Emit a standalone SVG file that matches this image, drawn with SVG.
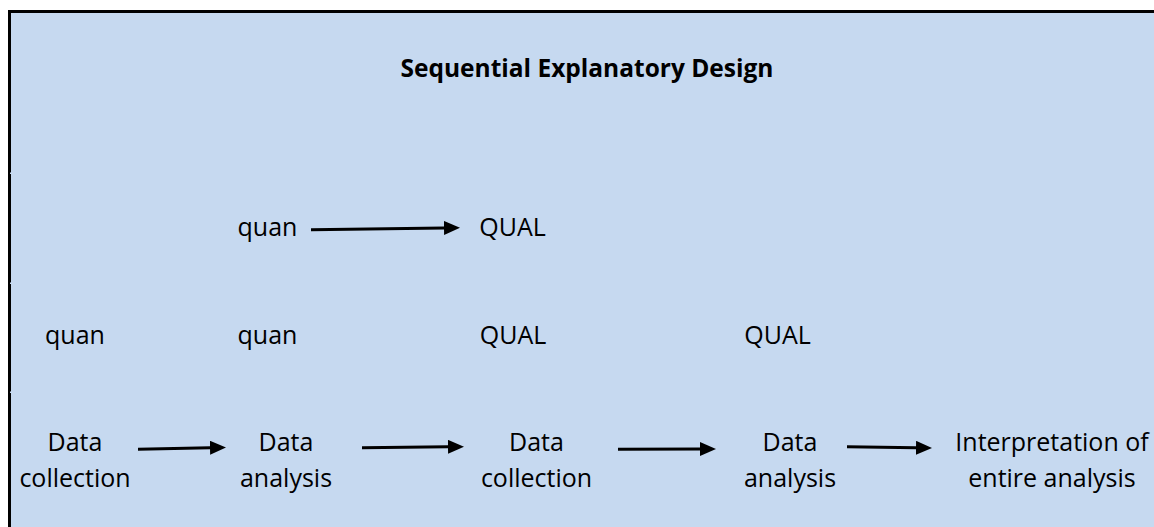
<svg xmlns="http://www.w3.org/2000/svg" width="1154" height="527" viewBox="0 0 1154 527">
  <style>
    .lbl { font-family: "Open Sans", "Liberation Sans", sans-serif; font-size: 25px; fill: #000; text-anchor: middle; }
    .title { font-weight: bold; font-size: 24.5px; }
    .conn line { stroke: #000; stroke-width: 3; }
  </style>
  <defs>
    <marker id="head" markerUnits="userSpaceOnUse" markerWidth="16" markerHeight="14" refX="0" refY="7" orient="auto">
      <path d="M0,0 L16,7 L0,14 z" fill="#000"/>
    </marker>
  </defs>

  <!-- panel -->
  <rect x="8" y="10" width="1146" height="517" fill="#C6D9F0"/>
  <rect x="8" y="10" width="1146" height="3" fill="#000"/>
  <rect x="8" y="10" width="3" height="517" fill="#000"/>
  <rect x="10" y="172.5" width="2" height="1.5" fill="#C6D9F0"/>
  <rect x="10" y="282.5" width="2" height="1.5" fill="#C6D9F0"/>
  <rect x="10" y="391.5" width="2" height="1.5" fill="#C6D9F0"/>

  <g id="title"><text class="lbl title" x="587" y="77">Sequential Explanatory Design</text></g>

  <g id="top-quan"><text class="lbl" x="267.5" y="236">quan</text></g>
  <g id="top-qual"><text class="lbl" x="512.5" y="236">QUAL</text></g>

  <g id="row-quan-1"><text class="lbl" x="75" y="344">quan</text></g>
  <g id="row-quan-2"><text class="lbl" x="267.5" y="344">quan</text></g>
  <g id="row-qual-1"><text class="lbl" x="513" y="344">QUAL</text></g>
  <g id="row-qual-2"><text class="lbl" x="777.5" y="344">QUAL</text></g>

  <g id="step-1"><text class="lbl" x="75" y="451"><tspan x="75">Data</tspan><tspan x="75" y="487">collection</tspan></text></g>
  <g id="step-2"><text class="lbl" x="286" y="451"><tspan x="286">Data</tspan><tspan x="286" y="487">analysis</tspan></text></g>
  <g id="step-3"><text class="lbl" x="536.5" y="451"><tspan x="536.5">Data</tspan><tspan x="536.5" y="487">collection</tspan></text></g>
  <g id="step-4"><text class="lbl" x="790" y="451"><tspan x="790">Data</tspan><tspan x="790" y="487">analysis</tspan></text></g>
  <g id="step-5"><text class="lbl" x="1052" y="451"><tspan x="1052">Interpretation of</tspan><tspan x="1052" y="487">entire analysis</tspan></text></g>

  <g id="connectors" class="conn">
    <line x1="311" y1="229.7" x2="444" y2="227.9" marker-end="url(#head)"/>
    <line x1="138" y1="449.3" x2="210" y2="447.8" marker-end="url(#head)"/>
    <line x1="362" y1="447.7" x2="448" y2="446.8" marker-end="url(#head)"/>
    <line x1="618" y1="449.3" x2="700" y2="449" marker-end="url(#head)"/>
    <line x1="847" y1="446.8" x2="916" y2="447.8" marker-end="url(#head)"/>
  </g>
</svg>
